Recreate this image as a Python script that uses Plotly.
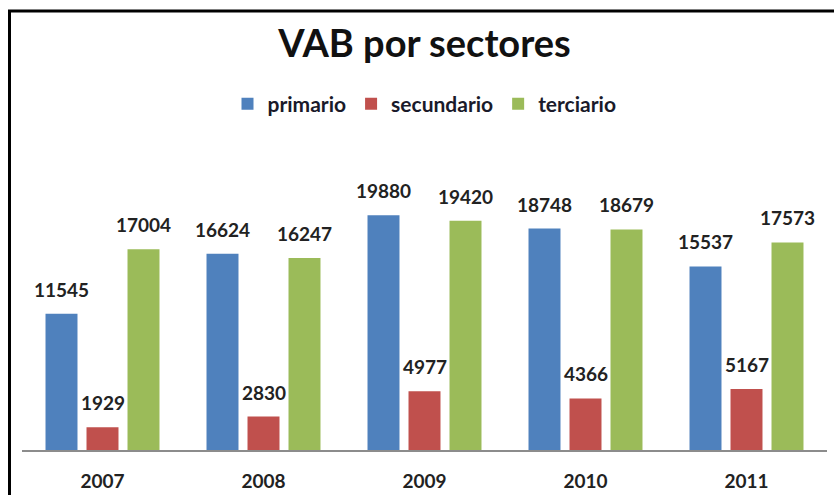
import plotly.graph_objects as go

# Valor agregado bruto por sector económico
years = ["2007", "2008", "2009", "2010", "2011"]
primario = [11545, 16624, 19880, 18748, 15537]
secundario = [1929, 2830, 4977, 4366, 5167]
terciario = [17004, 16247, 19420, 18679, 17573]

series_names = ["primario", "secundario", "terciario"]
series_values = [primario, secundario, terciario]
series_colors = ["#4F81BD", "#C0504D", "#9BBB59"]

FONT = "Lato"
W, H = 834, 495
M_L, M_R, M_T, M_B = 22, 7, 150, 45
PW = W - M_L - M_R
PH = H - M_T - M_B
BARGAP = 0.236

fig = go.Figure()
for name, vals, col in zip(series_names, series_values, series_colors):
    fig.add_trace(go.Bar(x=years, y=vals, name=name, marker_color=col,
                         marker_line_width=0))

# value labels above each bar; the category index positions each group,
# xshift moves the label onto its bar's slot within the group
slot_px = PW / len(years) * (1 - BARGAP) / 3
for i, vals in enumerate(series_values):
    for j, v in enumerate(vals):
        fig.add_annotation(x=j, y=v, text=f"<b>{v}</b>", showarrow=False,
                           xshift=(i - 1) * slot_px, yshift=11,
                           yanchor="bottom",
                           font=dict(family=FONT, size=19, color="#222222"))

# outer frame (left and top edges)
def px_x(p):
    return (p - M_L) / PW

def px_y(p):
    return (H - M_B - p) / PH

fig.add_shape(type="line", xref="paper", yref="paper",
              x0=px_x(9.5), x1=px_x(9.5), y0=px_y(520), y1=px_y(11),
              line=dict(color="#000000", width=3))
fig.add_shape(type="line", xref="paper", yref="paper",
              x0=px_x(8), x1=px_x(860), y0=px_y(11), y1=px_y(11),
              line=dict(color="#000000", width=3))

fig.update_layout(
    width=W, height=H,
    margin=dict(l=M_L, r=M_R, t=M_T, b=M_B),
    paper_bgcolor="white", plot_bgcolor="white",
    barmode="group", bargap=BARGAP, bargroupgap=0.22,
    title=dict(text="<b>VAB por sectores</b>", xref="paper", x=0.5,
               xanchor="center", y=1 - 44 / H, yanchor="middle",
               font=dict(family=FONT, size=38, color="#111111")),
    legend=dict(orientation="h", x=0.5, xanchor="center",
                y=px_y(104), yanchor="middle",
                font=dict(family=FONT, size=21, color="#1a1a2a", weight="bold")),
    showlegend=True,
)
fig.update_xaxes(type="category", range=[-0.5, len(years) - 0.5],
                 autorange=False, automargin=False, showline=True,
                 linecolor="#8c8c8c", linewidth=2, showgrid=False,
                 ticks="outside", ticklen=13, tickcolor="rgba(0,0,0,0)",
                 tickfont=dict(family=FONT, size=19, color="#222222",
                               weight="bold"))
fig.update_yaxes(range=[0, 25400], visible=False, showgrid=False,
                 automargin=False)

fig.write_html("out.html")
